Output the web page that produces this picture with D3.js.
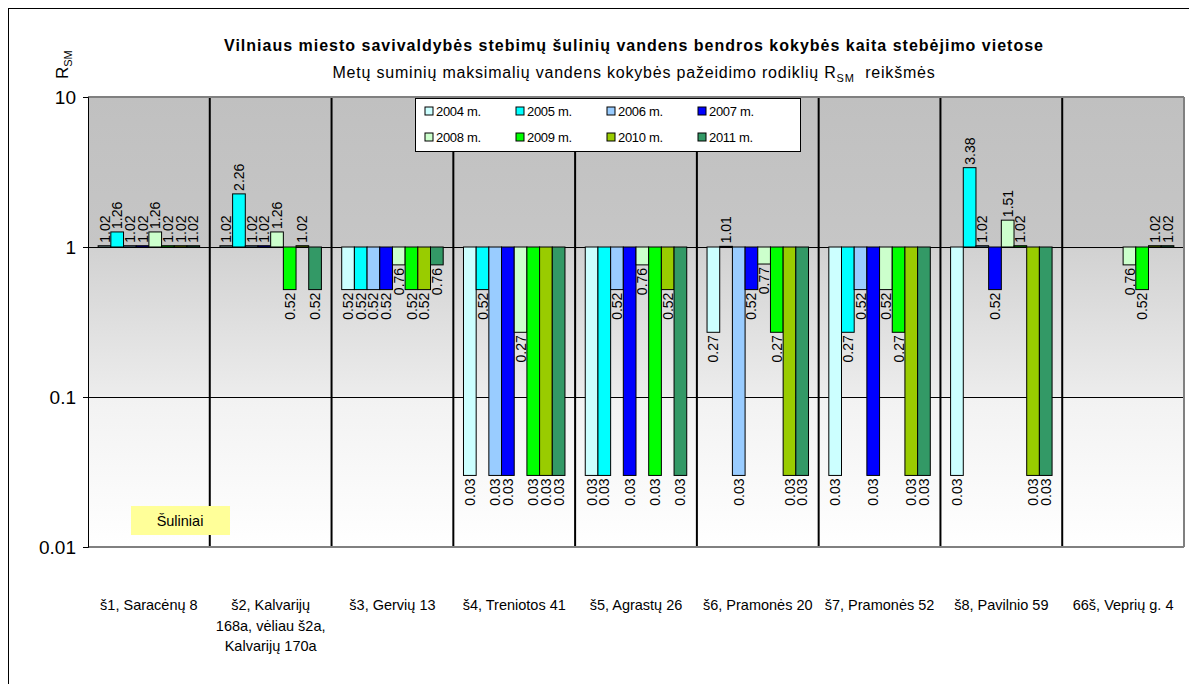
<!DOCTYPE html>
<html>
<head>
<meta charset="utf-8">
<script src="https://cdn.jsdelivr.net/npm/d3@7"></script>
<style>
  body { margin: 0; background: #fff; }
  svg { font-family: "Liberation Sans", Arial, sans-serif; }
</style>
</head>
<body>
<svg id="chart" width="1189" height="684"></svg>
<script>
// categories (wells)
const categories = [
  ['š1, Saracėnų 8'],
  ['š2, Kalvarijų', '168a, vėliau š2a,', 'Kalvarijų 170a'],
  ['š3, Gervių 13'],
  ['š4, Treniotos 41'],
  ['š5, Agrastų 26'],
  ['š6, Pramonės 20'],
  ['š7, Pramonės 52'],
  ['š8, Pavilnio 59'],
  ['66š, Veprių g. 4']
];
const years = ['2004 m.', '2005 m.', '2006 m.', '2007 m.', '2008 m.', '2009 m.', '2010 m.', '2011 m.'];

// R_SM values per year, one value per category (null = no data)
const v2004 = [1.02, 1.02, 0.52, 0.03, 0.03, 0.27, 0.03, 0.03, null];
const v2005 = [1.26, 2.26, 0.52, 0.52, 0.03, 1.01, 0.27, 3.38, null];
const v2006 = [1.02, 1.02, 0.52, 0.03, 0.52, 0.03, 0.52, 1.02, null];
const v2007 = [1.02, 1.02, 0.52, 0.03, 0.03, 0.52, 0.03, 0.52, null];
const v2008 = [1.26, 1.26, 0.76, 0.27, 0.76, 0.77, 0.52, 1.51, 0.76];
const v2009 = [1.02, 0.52, 0.52, 0.03, 0.03, 0.27, 0.27, 1.02, 0.52];
const v2010 = [1.02, 1.02, 0.52, 0.03, 0.52, 0.03, 0.03, 0.03, 1.02];
const v2011 = [1.02, 0.52, 0.76, 0.03, 0.03, 0.03, 0.03, 0.03, 1.02];
const seriesValues = [v2004, v2005, v2006, v2007, v2008, v2009, v2010, v2011];

const colors = ['#ccffff', '#00ffff', '#99ccff', '#0000ff', '#ccffcc', '#00ff00', '#99cc00', '#339966'];
const yTicks = [10, 1, 0.1, 0.01];

const svg = d3.select('#chart');
const margin = { top: 97, left: 88, right: 1184, bottom: 547 };

// outer chart frame
svg.append('rect')
  .attr('x', 8.5).attr('y', 8.5)
  .attr('width', 1200).attr('height', 700)
  .attr('fill', '#fff').attr('stroke', '#000').attr('stroke-width', 1);

// plot background gradient
const defs = svg.append('defs');
const grad = defs.append('linearGradient')
  .attr('id', 'bg').attr('x1', 0).attr('y1', 0).attr('x2', 0).attr('y2', 1);
grad.append('stop').attr('offset', '0%').attr('stop-color', '#c0c0c0');
grad.append('stop').attr('offset', '33%').attr('stop-color', '#c6c6c6');
grad.append('stop').attr('offset', '34%').attr('stop-color', '#d2d2d2');
grad.append('stop').attr('offset', '66%').attr('stop-color', '#ececec');
grad.append('stop').attr('offset', '67%').attr('stop-color', '#f2f2f2');
grad.append('stop').attr('offset', '100%').attr('stop-color', '#ffffff');

svg.append('rect')
  .attr('x', margin.left).attr('y', margin.top)
  .attr('width', margin.right - margin.left)
  .attr('height', margin.bottom - margin.top)
  .attr('fill', 'url(#bg)');

const x0 = d3.scaleBand()
  .domain(d3.range(categories.length))
  .range([margin.left, margin.right])
  .padding(0);

const x1 = d3.scaleBand()
  .domain(d3.range(years.length))
  .range([0, x0.bandwidth()])
  .paddingInner(0)
  .paddingOuter(0.8);

const y = d3.scaleLog()
  .domain([0.01, 10])
  .range([margin.bottom, margin.top]);

// horizontal gridlines
svg.append('g')
  .selectAll('line')
  .data([1, 0.1])
  .enter()
  .append('line')
  .attr('x1', margin.left).attr('x2', margin.right)
  .attr('y1', d => Math.round(y(d)) + 0.5).attr('y2', d => Math.round(y(d)) + 0.5)
  .attr('stroke', '#000').attr('stroke-width', 1);

// vertical category dividers
svg.append('g')
  .selectAll('line')
  .data(d3.range(1, categories.length))
  .enter()
  .append('line')
  .attr('x1', d => x0(d)).attr('x2', d => x0(d))
  .attr('y1', margin.top).attr('y2', margin.bottom)
  .attr('stroke', '#000').attr('stroke-width', 2);

// bars, base at 1
const bars = [];
seriesValues.forEach((vals, s) => {
  vals.forEach((v, c) => {
    if (v !== null) bars.push({ s, c, v });
  });
});

svg.append('g')
  .selectAll('rect')
  .data(bars)
  .enter()
  .append('rect')
  .attr('x', d => x0(d.c) + x1(d.s))
  .attr('y', d => Math.min(y(d.v), y(1)))
  .attr('width', x1.bandwidth())
  .attr('height', d => Math.abs(y(d.v) - y(1)))
  .attr('fill', d => colors[d.s])
  .attr('stroke', '#000')
  .attr('stroke-width', 1);

// value labels, rotated
svg.append('g')
  .selectAll('text')
  .data(bars)
  .enter()
  .append('text')
  .attr('transform', d => {
    const cx = x0(d.c) + x1(d.s) + x1.bandwidth() / 2;
    const yy = d.v >= 1 ? y(d.v) - 3 : y(d.v) + 3;
    return `translate(${cx},${yy}) rotate(-90)`;
  })
  .attr('text-anchor', d => d.v >= 1 ? 'start' : 'end')
  .attr('dy', '0.36em')
  .attr('font-size', 14)
  .attr('fill', '#000')
  .text(d => d.v.toFixed(2));

// plot border (gray top/bottom/right)
svg.append('line')
  .attr('x1', margin.left).attr('x2', margin.right)
  .attr('y1', margin.top).attr('y2', margin.top)
  .attr('stroke', '#808080').attr('stroke-width', 2);
svg.append('line')
  .attr('x1', margin.left).attr('x2', margin.right)
  .attr('y1', margin.bottom).attr('y2', margin.bottom)
  .attr('stroke', '#808080').attr('stroke-width', 2);
svg.append('line')
  .attr('x1', margin.right).attr('x2', margin.right)
  .attr('y1', margin.top).attr('y2', margin.bottom)
  .attr('stroke', '#808080').attr('stroke-width', 2);

// y axis
const yAxis = svg.append('g')
  .attr('transform', `translate(${margin.left},0)`)
  .call(d3.axisLeft(y).tickValues(yTicks).tickSize(5).tickPadding(7)
    .tickFormat(d => String(d)));
yAxis.select('.domain').attr('stroke', '#000');
yAxis.selectAll('text').attr('font-size', 19).attr('fill', '#000')
  .attr('font-family', '"Liberation Sans", Arial, sans-serif');
yAxis.selectAll('line').attr('stroke', '#000');

// category labels
const xl = svg.append('g')
  .selectAll('text')
  .data(categories)
  .enter()
  .append('text')
  .attr('x', (d, i) => x0(i) + x0.bandwidth() / 2)
  .attr('y', 610)
  .attr('text-anchor', 'middle')
  .attr('font-size', 14.5)
  .attr('fill', '#000');
xl.selectAll('tspan')
  .data(d => d)
  .enter()
  .append('tspan')
  .attr('x', function () { return this.parentNode.getAttribute('x'); })
  .attr('dy', (d, i) => i === 0 ? 0 : 20.5)
  .text(d => d);

// titles
svg.append('text')
  .attr('x', 634).attr('y', 51)
  .attr('text-anchor', 'middle')
  .attr('font-size', 16).attr('font-weight', 'bold')
  .attr('letter-spacing', 1)
  .text('Vilniaus miesto savivaldybės stebimų šulinių vandens bendros kokybės kaita stebėjimo vietose');

const sub = svg.append('text')
  .attr('x', 634).attr('y', 78)
  .attr('text-anchor', 'middle')
  .attr('font-size', 16)
  .attr('letter-spacing', 0.8);
sub.append('tspan').text('Metų suminių maksimalių vandens kokybės pažeidimo rodiklių R');
sub.append('tspan').attr('font-size', 11).attr('dy', 4).text('SM');
sub.append('tspan').attr('dy', -4).text('\u00a0\u00a0reikšmės');

// y axis title
const yt = svg.append('text')
  .attr('transform', 'translate(68,79) rotate(-90)')
  .attr('font-size', 17);
yt.append('tspan').text('R');
yt.append('tspan').attr('font-size', 11).attr('dy', 4).text('SM');

// legend
const legend = svg.append('g').attr('transform', 'translate(415,98)');
legend.append('rect')
  .attr('x', 0.5).attr('y', 0.5).attr('width', 385).attr('height', 53)
  .attr('fill', '#fff').attr('stroke', '#000');
const li = legend.selectAll('g.item')
  .data(years)
  .enter()
  .append('g')
  .attr('class', 'item')
  .attr('transform', (d, i) => `translate(${10 + (i % 4) * 91},${i < 4 ? 13 : 39})`);
li.append('rect')
  .attr('x', 0).attr('y', -4).attr('width', 8).attr('height', 8)
  .attr('fill', (d, i) => colors[i]).attr('stroke', '#000');
li.append('text')
  .attr('x', 11).attr('dy', '0.35em')
  .attr('font-size', 13)
  .attr('letter-spacing', '-0.3')
  .text(d => d);

// "Šuliniai" note
svg.append('rect')
  .attr('x', 131).attr('y', 506).attr('width', 99).attr('height', 29)
  .attr('fill', '#ffff99');
svg.append('text')
  .attr('x', 180).attr('y', 526)
  .attr('text-anchor', 'middle')
  .attr('font-size', 14.5)
  .text('Šuliniai');
</script>
</body>
</html>
